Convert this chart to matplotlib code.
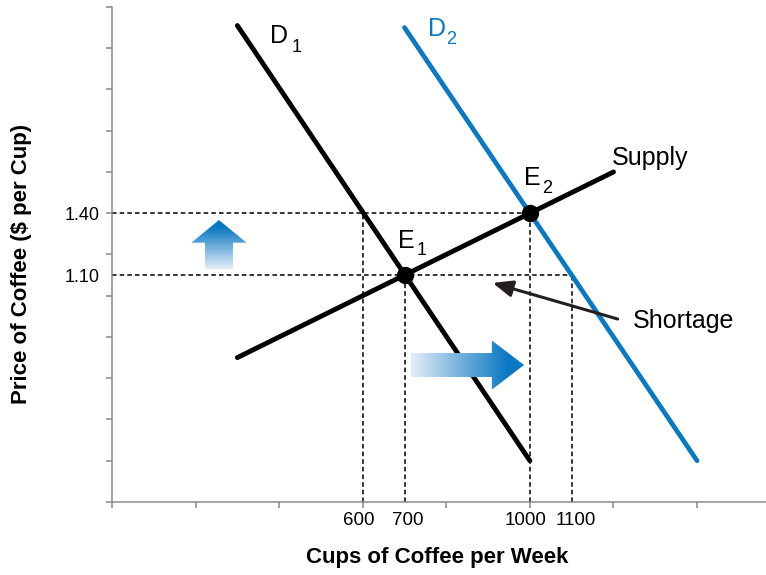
import matplotlib.pyplot as plt
import matplotlib.transforms as mtransforms
import numpy as np
from matplotlib.patches import Polygon
from matplotlib.colors import LinearSegmentedColormap

plt.rcParams['font.family'] = ['Liberation Sans', 'DejaVu Sans']

# end points of the curves (cups per week, price)
d1_q = [300, 1000]
d1_p = [2.31, 0.20]
d2_q = [700, 1400]
d2_p = [2.30, 0.20]
supply_q = [300, 1200]
supply_p = [0.70, 1.60]

# equilibria
eq_q = [700, 1000]
eq_p = [1.10, 1.40]

guide_q = [600, 700, 1000, 1100]
guide_p = [1.40, 1.10, 1.40, 1.10]

xtick_vals = [600, 700, 1000, 1100]
xtick_labels = ['600', '700', '1000', '1100']
ytick_vals = [1.10, 1.40]
ytick_labels = ['1.10', '1.40']

black = 'black'
blue = '#0a78c2'
axis_gray = '#8a8a8a'

fig = plt.figure(figsize=(7.66, 5.75), dpi=100)
ax = fig.add_axes([0.1462, 0.1270, 0.8538, 0.8609])

# dashed guides
for q, p in zip(guide_q, guide_p):
    ax.vlines(q, 0, p, colors=black, linestyles=(0, (3, 2)), lw=1.1, zorder=2)
for p in sorted(set(guide_p)):
    qmax = max(q for q, pp in zip(guide_q, guide_p) if pp == p)
    ax.hlines(p, 0, qmax, colors=black, linestyles=(0, (3, 2)), lw=1.1, zorder=2)

ax.plot(d2_q, d2_p, color=blue, lw=3.4, solid_capstyle='round', zorder=3)
ax.plot(d1_q, d1_p, color=black, lw=3.5, solid_capstyle='round', zorder=3)
ax.plot(supply_q, supply_p, color=black, lw=3.5, solid_capstyle='round', zorder=3)
ax.plot(eq_q, eq_p, 'o', ms=11.5, color=black, zorder=5)

# gradient arrows
cmap = LinearSegmentedColormap.from_list('shift', [(0, '#e4edf8'), (0.85, blue), (1, blue)])
grad = np.linspace(0, 1, 256)


def up_arrow(cx, yb, yh, yt, sw, hw):
    pts = [(cx - sw, yb), (cx + sw, yb), (cx + sw, yh), (cx + hw, yh),
           (cx, yt), (cx - hw, yh), (cx - sw, yh)]
    poly = Polygon(pts, closed=True, fc='none', ec='none')
    ax.add_patch(poly)
    im = ax.imshow(grad.reshape(-1, 1), cmap=cmap, origin='lower', aspect='auto',
                   extent=[cx - hw, cx + hw, yb, yt], zorder=6)
    im.set_clip_path(poly)


def right_arrow(cy, xb, xh, xt, sh, hh):
    pts = [(xb, cy - sh), (xb, cy + sh), (xh, cy + sh), (xh, cy + hh),
           (xt, cy), (xh, cy - hh), (xh, cy - sh)]
    poly = Polygon(pts, closed=True, fc='none', ec='none')
    ax.add_patch(poly)
    im = ax.imshow(grad.reshape(1, -1), cmap=cmap, origin='lower', aspect='auto',
                   extent=[xb, xt, cy - hh, cy + hh], zorder=6)
    im.set_clip_path(poly)


up_arrow(256, 1.13, 1.257, 1.367, 33.5, 66)
right_arrow(0.664, 715, 909, 986, 0.058, 0.119)
ax.set_xlim(0, 1565)
ax.set_ylim(0, 2.4)

# shortage pointer
ax.annotate('', xy=(911, 1.062), xytext=(1210, 0.887),
            arrowprops=dict(arrowstyle='-|>,head_length=0.6,head_width=0.25',
                            color='#231f20', lw=2.2, mutation_scale=20,
                            shrinkA=0, shrinkB=0), zorder=4)

fs = 18
sub = 13
ax.text(378, 2.225, 'D', fontsize=fs, color=black)
ax.text(429, 2.182, '1', fontsize=sub, color=black)
ax.text(756, 2.259, 'D', fontsize=fs, color=blue)
ax.text(799, 2.221, '2', fontsize=sub, color=blue)
ax.text(1196, 1.634, 'Supply', fontsize=fs, color=black)
ax.text(986, 1.537, 'E', fontsize=fs, color=black)
ax.text(1029, 1.498, '2', fontsize=sub, color=black)
ax.text(684, 1.232, 'E', fontsize=fs, color=black)
ax.text(728, 1.198, '1', fontsize=sub, color=black)
ax.text(1246, 0.844, 'Shortage', fontsize=fs, color=black)

# axes styling
for s in ['top', 'right']:
    ax.spines[s].set_visible(False)
for s in ['left', 'bottom']:
    ax.spines[s].set_color(axis_gray)
    ax.spines[s].set_linewidth(1.1)

ax.xaxis.remove_overlapping_locs = False
ax.yaxis.remove_overlapping_locs = False
ax.set_xticks(np.arange(0, 1401, 200), minor=True)
ax.set_yticks(np.arange(0, 2.41, 0.2), minor=True)
ax.set_xticks(xtick_vals)
ax.set_xticklabels(xtick_labels)
ax.set_yticks(ytick_vals)
ax.set_yticklabels(ytick_labels)
ax.tick_params(axis='x', which='major', length=0, pad=7, labelsize=13.5)
ax.tick_params(axis='y', which='major', length=0, pad=8.6, labelsize=13)
ax.tick_params(which='minor', length=4.5, width=1.1, color=axis_gray)

# nudge close labels apart a little, as in the original
for lab, dx in zip(ax.get_xticklabels(), [-4, 3, -4, 4]):
    lab.set_transform(lab.get_transform()
                      + mtransforms.ScaledTranslation(dx / 100, 0, fig.dpi_scale_trans))

fig.text(437 / 766, 1 - 563 / 575, 'Cups of Coffee per Week', fontsize=16,
         fontweight='bold', ha='center', va='baseline')
fig.text(21.5 / 766, 1 - 263.5 / 575, 'Price of Coffee ($ per Cup)', fontsize=16,
         fontweight='bold', rotation=90, ha='center', va='center')

fig.savefig('out.png', dpi=100)
